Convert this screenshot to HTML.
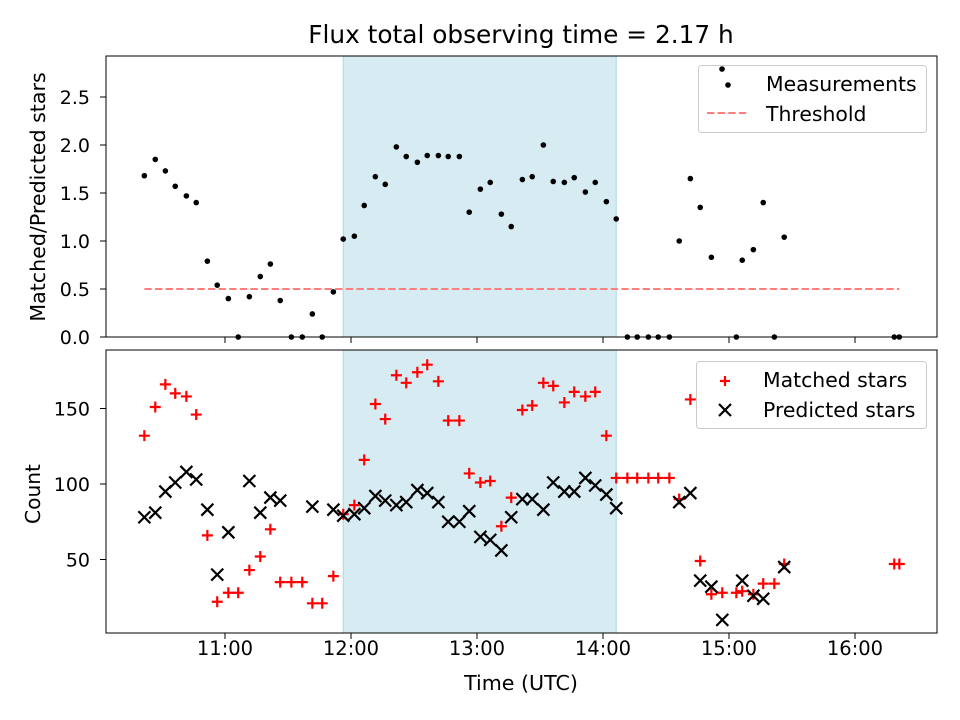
<!DOCTYPE html>
<html><head><meta charset="utf-8"><style>
html,body{margin:0;padding:0;background:#fff}
svg{display:block;font-family:"DejaVu Sans","Liberation Sans",sans-serif}
</style></head><body>
<svg id="chart" width="960" height="720" viewBox="0 0 960 720"></svg>
<script>
const times = [21.6,26.8,31.6,36.3,41.6,46.3,51.6,56.3,61.6,66.3,71.6,76.8,81.6,86.3,91.6,96.8,101.6,106.3,111.6,116.3,121.6,126.3,131.6,136.3,141.6,146.3,151.6,156.3,161.6,166.3,171.6,176.3,181.6,186.3,191.6,196.3,201.6,206.3,211.6,216.3,221.6,226.3,231.6,236.3,241.6,246.3,251.6,256.3,261.6,266.3,271.6,276.3,281.6,286.3,291.6,296.8,303.5,306.3,311.6,316.3,321.6,326.3,378.7,381.1];
const ratios = [1.68,1.85,1.73,1.57,1.47,1.40,0.79,0.54,0.40,0,0.42,0.63,0.76,0.38,0,0,0.24,0,0.47,1.02,1.05,1.37,1.67,1.59,1.98,1.88,1.82,1.89,1.89,1.88,1.88,1.30,1.54,1.61,1.28,1.15,1.64,1.67,2.00,1.62,1.61,1.66,1.51,1.61,1.41,1.23,0,0,0,0,0,1.00,1.65,1.35,0.83,2.79,0,0.80,0.91,1.40,0,1.04,0,0];
const matched = [132,151,166,160,158,146,66,22,28,28,43,52,70,35,35,35,21,21,39,80,86,116,153,143,172,167,174,179,168,142,142,107,101,102,72,91,149,152,167,165,154,161,158,161,132,104,104,104,104,104,104,90,156,49,27,28,28,29,27,34,34,47,47,47];
const predicted = [78,81,95,101,108,103,83,40,68,null,102,81,91,89,null,null,85,null,83,79,80,84,92,89,86,88,96,94,88,75,75,82,65,63,56,78,90,90,83,101,95,95,104,99,93,84,null,null,null,null,null,88,94,36,32,10,null,36,26,24,null,45,null,null];
const threshold = 0.5;
const thresholdRange = [21.6, 381.1];
const spanRange = [116.3, 246.3];
const xTickLabels = ["11:00","12:00","13:00","14:00","15:00","16:00"];
const xTickValues = [60,120,180,240,300,360];
const topTicks = [0.0,0.5,1.0,1.5,2.0,2.5];
const botTicks = [50,100,150];

const NS="http://www.w3.org/2000/svg";
const svg=document.getElementById('chart');
function mk(tag,attrs,parent){const e=document.createElementNS(NS,tag);for(const k in attrs)e.setAttribute(k,attrs[k]);(parent||svg).appendChild(e);return e;}
const L=106,R=937;
const X=m=>99+m*2.1;
const topY=v=>337-v*96;
const botY=v=>635-v*1.51;
const T={t:56,b:337}, B={t:350,b:633};

function panel(p,name){
  const g=mk('g',{});
  
  
  const s=mk('rect',{x:X(spanRange[0]),y:p.t,width:X(spanRange[1])-X(spanRange[0]),height:p.b-p.t,fill:'#add8e6','fill-opacity':0.5,stroke:'#add8e6'},g);
  
  
  return g;
}
const gt=panel(T,'ratio-panel');
const th=mk('line',{x1:X(thresholdRange[0]),x2:X(thresholdRange[1]),y1:topY(threshold),y2:topY(threshold),stroke:'#ff7f7f','stroke-width':2,'stroke-dasharray':'7.4,3.2'},gt);


times.forEach((t,i)=>{const v=ratios[i];if(v==null)return;
  const c=mk('circle',{cx:X(t),cy:topY(v),r:2.8,fill:'#000'},gt);
  
  
});
const gb=panel(B,'count-panel');
times.forEach((t,i)=>{const v=matched[i];if(v==null)return;
  const x=X(t),y=botY(v);
  const p=mk('path',{d:`M${x-5.5},${y}H${x+5.5}M${x},${y-5.5}V${y+5.5}`,stroke:'#f00','stroke-width':2.2},gb);
  
  
});
times.forEach((t,i)=>{const v=predicted[i];if(v==null)return;
  const x=X(t),y=botY(v);
  const p=mk('path',{d:`M${x-6},${y-6}L${x+6},${y+6}M${x-6},${y+6}L${x+6},${y-6}`,stroke:'#000','stroke-width':2.2},gb);
  
  
});
[[T,'top'],[B,'bottom']].forEach(([p,n])=>{
  const f=mk('rect',{x:L,y:p.t,width:R-L,height:p.b-p.t,fill:'none',stroke:'#000','stroke-width':1});
  
  
  xTickValues.forEach((v,i)=>{
    mk('line',{x1:X(v),x2:X(v),y1:p.b,y2:p.b+6,stroke:'#000'});
    if(n==='bottom'){const t=mk('text',{x:X(v),y:p.b+22,'text-anchor':'middle','font-size':19.5});t.textContent=xTickLabels[i];
      
      }
  });
});
topTicks.forEach(v=>{const y=topY(v);mk('line',{x1:L-6,x2:L,y1:y,y2:y,stroke:'#000'});
  const t=mk('text',{x:L-16,y:y+7,'text-anchor':'end','font-size':19});t.textContent=v.toFixed(1);
  
  });
botTicks.forEach(v=>{const y=botY(v);mk('line',{x1:L-6,x2:L,y1:y,y2:y,stroke:'#000'});
  const t=mk('text',{x:L-16,y:y+7,'text-anchor':'end','font-size':19});t.textContent=v;
  
  });
</script>
<svg width="960" height="720" style="position:absolute;left:0;top:0;font-family:'DejaVu Sans','Liberation Sans',sans-serif">
  <text x="521" y="43" text-anchor="middle" font-size="24.8">Flux total observing time = 2.17 h</text>
  <text x="45" y="197" text-anchor="middle" font-size="20.6" transform="rotate(-90 45 197)">Matched/Predicted stars</text>
  <text x="40" y="494" text-anchor="middle" font-size="20.2" transform="rotate(-90 40 494)">Count</text>
  <text x="521" y="690" text-anchor="middle" font-size="20.6">Time (UTC)</text>
  <g>
    <rect x="698.5" y="65.5" width="228" height="67" rx="3" fill="#fff" fill-opacity="0.8" stroke="#ccc"/>
    <circle cx="722" cy="69" r="2.8" fill="#000"/>
    <circle cx="728" cy="85" r="2.8" fill="#000"/>
    <text x="766" y="91" font-size="20.4">Measurements</text>
    <line x1="707" x2="748" y1="113" y2="113" stroke="#ff7f7f" stroke-width="2" stroke-dasharray="7.4,3.2"/>
    <text x="766" y="121" font-size="20.4">Threshold</text>
  </g>
  <g>
    <rect x="696.5" y="361.5" width="230" height="67" rx="3" fill="#fff" fill-opacity="0.8" stroke="#ccc"/>
    <path d="M720,381H730M725,376V386" stroke="#f00" stroke-width="2.2"/>
    <text x="763" y="387" font-size="20.4">Matched stars</text>
    <path d="M719,404L731,416M719,416L731,404" stroke="#000" stroke-width="2.2"/>
    <text x="763" y="417" font-size="20.4">Predicted stars</text>
  </g>
</svg>
</body></html>
